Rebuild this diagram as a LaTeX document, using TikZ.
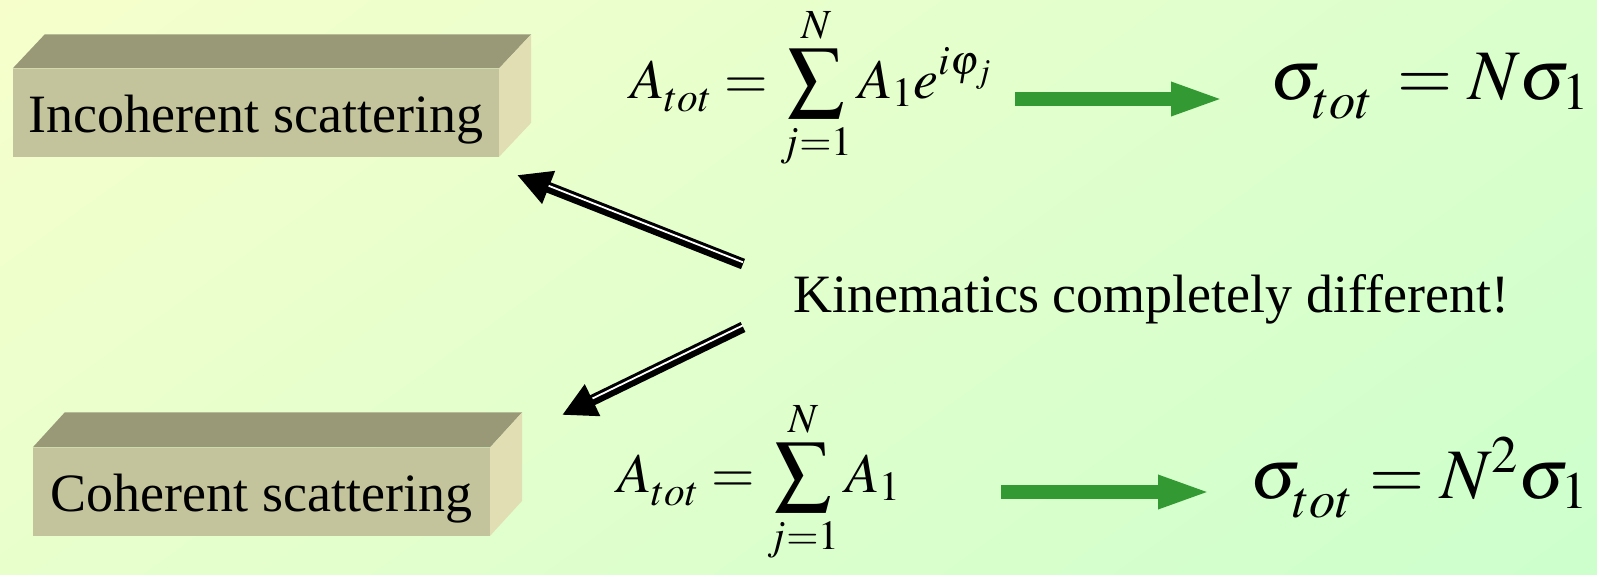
\documentclass[tikz,border=0pt]{standalone}
\usepackage{mathptmx}
\usepackage[no-math]{fontspec}
\setmainfont{Liberation Serif}
\usetikzlibrary{arrows.meta,calc,shadings}
\definecolor{bgtl}{HTML}{F6FFCC}
\definecolor{bgtr}{HTML}{DAFFCC}
\definecolor{bgbl}{HTML}{E8FFCC}
\definecolor{bgbr}{HTML}{CCFFCC}
\definecolor{topc}{HTML}{999978}
\definecolor{frontc}{HTML}{C4C49C}
\definecolor{sidec}{HTML}{E0DEB2}
\definecolor{arrgreen}{HTML}{339933}
% subscript set a little lower than TeX does
\newcommand{\lowsub}[2]{_{\raisebox{-#1}{$\scriptstyle #2$}}}

\begin{document}
\begin{tikzpicture}[x=1pt,y=-1pt,
   face/.style={fill=frontc,minimum width=#1,minimum height=88pt,inner sep=0pt,
     text height=40pt,text depth=0pt,font=\fontsize{54}{60}\selectfont},
   txt/.style={inner sep=0pt,font=\fontsize{54}{60}\selectfont},
   eq/.style={inner sep=0pt,font=\fontsize{56}{64}\selectfont},
   bigeq/.style={inner sep=0pt,font=\fontsize{71}{80}\selectfont},
   garrow/.style={arrgreen,line width=14pt,-{Triangle[length=54pt,width=30pt]}},
   dbl/.style={line width=11pt,-{Triangle[length=34pt,width=33pt]},
     postaction={draw=white,line width=1.8pt,-,shorten >=34pt,transform canvas={yshift=1.7pt}}}]
  % background
  \useasboundingbox (0,0) rectangle (1597,574);
  \shade[upper left=bgtl,upper right=bgtr,lower left=bgbl,lower right=bgbr]
    (0,0) rectangle (1597,574);
  % boxes
  \node[face=486pt] (inc) at (256,112.5) {Incoherent scattering};
  \fill[topc] (inc.north west) -- ++(32,-34) -- ($(inc.north east)+(32,-34)$) -- (inc.north east) -- cycle;
  \fill[sidec] (inc.north east) -- ++(32,-34) -- ($(inc.south east)+(32,-34)$) -- (inc.south east) -- cycle;
  \node[face=457pt] (coh) at (261.5,491.5) {Coherent scattering};
  \fill[topc] (coh.north west) -- ++(32,-35) -- ($(coh.north east)+(32,-35)$) -- (coh.north east) -- cycle;
  \fill[sidec] (coh.north east) -- ++(32,-35) -- ($(coh.south east)+(32,-35)$) -- (coh.south east) -- cycle;
  % middle text and arrows
  \node[txt,anchor=base west] (kin) at (793,312) {Kinematics completely different!};
  \coordinate (ta) at (743,264); \coordinate (tipa) at (517,175);
  \coordinate (tb) at (743,327); \coordinate (tipb) at (562,415);
  \draw[dbl] (ta) -- (tipa);
  \draw[dbl] (tb) -- (tipb);
  % formulas
  \node[eq,anchor=base west] (eqa) at (630,98) {$A\lowsub{5pt}{tot}=\displaystyle\sum_{j=1}^{N}A_1e^{i\varphi_j}$};
  \node[bigeq,anchor=base west] (sga) at (1270,99) {$\sigma\lowsub{9pt}{tot}\,=N\sigma_1$};
  \node[eq,anchor=base west] (eqb) at (617,492) {$A\lowsub{5pt}{tot}=\displaystyle\sum_{j=1}^{N}A_1$};
  \node[bigeq,anchor=base west] (sgb) at (1250,498) {$\sigma\lowsub{9pt}{tot}=N^2\sigma_1$};
  \coordinate (ga) at (1015,99); \coordinate (gha) at (1225,99);
  \coordinate (gb) at (1001,492); \coordinate (ghb) at (1212,492);
  \draw[garrow] (ga) -- (gha);
  \draw[garrow] (gb) -- (ghb);
\end{tikzpicture}
\end{document}
